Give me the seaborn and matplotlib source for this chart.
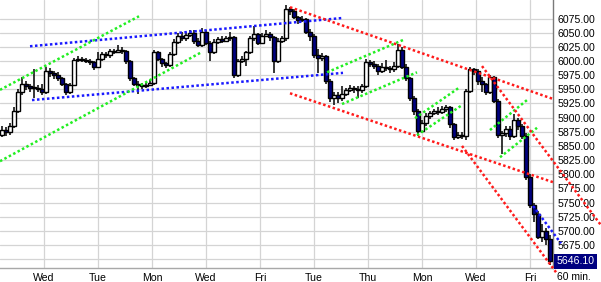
import numpy as np
import pandas as pd
import matplotlib
matplotlib.use("Agg")
import matplotlib.pyplot as plt
import seaborn as sns
from matplotlib.transforms import blended_transform_factory

# ---------------- data (60-min candles) ----------------
first_open = 5870
closes = [5878, 5874, 5885, 5912, 5945, 5960, 5955, 5952, 5953, 5950,
          5945, 5983, 5978, 5975, 5970, 5960, 5945, 5958, 6002, 6004,
          6002, 6000, 5998, 5990, 6004, 6012, 6010, 6018, 6016, 6020,
          6017, 6000, 5970, 5960, 5958, 5955, 5958, 5962, 6016, 6004,
          5996, 5993, 6012, 6034, 6045, 6040, 6046, 6050, 6035, 6028,
          6052, 6032, 6016, 6034, 6038, 6036, 6040, 6042, 5975, 6000,
          6004, 6015, 6040, 6048, 6032, 6045, 6048, 6042, 6000, 6035,
          6040, 6092, 6088, 6078, 6072, 6074, 6052, 6045, 6010, 6005,
          6008, 5965, 5935, 5940, 5935, 5942, 5948, 5952, 5950, 5948,
          5955, 5998, 5995, 5992, 5982, 5990, 5988, 5985, 5992, 6020,
          5990, 5970, 5935, 5912, 5876, 5890, 5903, 5908, 5912, 5910,
          5915, 5918, 5888, 5866, 5870, 5868, 5947, 5985, 5982, 5965,
          5960, 5945, 5972, 5930, 5870, 5872, 5880, 5868, 5895, 5885,
          5868, 5796, 5745, 5730, 5690, 5700, 5685, 5646.1]
highs = [5885, 5884, 5890, 5918, 5950, 5972, 5965, 5960, 5985, 5958,
         5960, 5990, 5988, 5982, 5980, 5972, 5962, 5962, 6006, 6008,
         6007, 6005, 6004, 6000, 6016, 6016, 6015, 6022, 6022, 6028,
         6024, 6020, 6002, 5972, 5965, 5962, 5962, 5966, 6020, 6018,
         6006, 5998, 6015, 6038, 6050, 6052, 6052, 6055, 6054, 6040,
         6058, 6055, 6035, 6038, 6042, 6044, 6045, 6052, 6044, 6004,
         6008, 6018, 6044, 6062, 6050, 6050, 6055, 6052, 6045, 6040,
         6044, 6098, 6096, 6092, 6080, 6080, 6076, 6056, 6048, 6022,
         6014, 6010, 5968, 5946, 5945, 5955, 5952, 5958, 5956, 5955,
         5960, 6004, 6002, 6000, 5995, 5996, 6002, 5992, 5998, 6030,
         6024, 5994, 5972, 5938, 5915, 5895, 5908, 5912, 5916, 5918,
         5920, 5922, 5920, 5890, 5874, 5874, 5950, 5990, 5988, 5985,
         5972, 5962, 5976, 5974, 5932, 5876, 5885, 5886, 5906, 5900,
         5888, 5872, 5800, 5750, 5735, 5712, 5705, 5692]
lows = [5866, 5868, 5870, 5882, 5908, 5940, 5948, 5946, 5935, 5946,
        5940, 5942, 5972, 5968, 5965, 5955, 5940, 5942, 5955, 5998,
        5998, 5996, 5993, 5984, 5988, 6000, 6005, 6006, 6012, 6014,
        6012, 5995, 5965, 5955, 5942, 5950, 5952, 5955, 5958, 6000,
        5990, 5988, 5990, 6008, 6030, 6035, 6036, 6042, 6030, 6024,
        6025, 6028, 6000, 6012, 6030, 6032, 6033, 6036, 5970, 5972,
        5996, 5992, 6012, 6036, 6028, 6030, 6042, 6036, 5978, 5996,
        6032, 6036, 6082, 6074, 6066, 6068, 6048, 6036, 6005, 5978,
        6000, 5960, 5928, 5922, 5925, 5930, 5938, 5945, 5944, 5935,
        5944, 5952, 5990, 5985, 5975, 5978, 5982, 5978, 5980, 5988,
        5985, 5965, 5930, 5905, 5868, 5872, 5885, 5898, 5904, 5905,
        5906, 5910, 5882, 5860, 5862, 5862, 5860, 5944, 5975, 5958,
        5945, 5940, 5942, 5925, 5864, 5835, 5866, 5860, 5864, 5878,
        5862, 5790, 5740, 5715, 5685, 5680, 5675, 5640]

day_labels = ["Wed", "Tue", "Mon", "Wed", "Fri", "Tue", "Thu", "Mon", "Wed", "Fri"]
day_label_bars = [10.5, 24, 37.5, 51, 64.5, 78, 91.5, 105, 118.5, 132]
price_ticks = [5650, 5675, 5700, 5725, 5750, 5775, 5800, 5825, 5850, 5875,
               5900, 5925, 5950, 5975, 6000, 6025, 6050, 6075]
last_price = 5646.10
interval_label = "60 min."

# trend lines: (bar0, price0, bar1, price1)
blue_lines = [(7, 6026, 85.25, 6076),
              (7.5, 5931, 85.25, 5979),
              (132.75, 5744, 139.75, 5678)]
green_lines = [(-0.5, 5949, 34.25, 6079),
               (-0.5, 5823, 50, 6016),
               (81.25, 5980, 100.25, 6037),
               (85, 5924, 103.75, 5980),
               (103.25, 5899, 114.5, 5954),
               (103.75, 5869, 115, 5922),
               (122, 5878, 131.25, 5931),
               (124.5, 5830, 133.75, 5882)]
red_lines = [(72, 6095, 137.75, 5933),
             (72, 5943, 137.75, 5786),
             (120, 5991, 149.75, 5710),
             (115, 5850, 138.5, 5627)]

# ---------------- styling ----------------
sns.set_theme(style="white")
plt.rcParams["font.family"] = ["Liberation Sans", "DejaVu Sans"]

W, H = 601, 282
fig = plt.figure(figsize=(W / 100, H / 100), dpi=100)
bottom_px = 268.3
right_px = 553
ax = fig.add_axes([0, 1 - bottom_px / H, right_px / W, bottom_px / H])
ax.set_facecolor("white")

n = len(closes)
bars = np.arange(n)
opens = [first_open] + closes[:-1]
df = pd.DataFrame({"bar": bars, "open": opens, "close": closes,
                   "high": highs, "low": lows})
df["up"] = df["close"] >= df["open"]

# wicks
ax.vlines(df["bar"], df["low"], df["high"], color="black", lw=1.1, zorder=3)
# bodies
body_bottom = df[["open", "close"]].min(axis=1)
body_h = (df["close"] - df["open"]).abs().clip(lower=1.5)
ax.bar(df["bar"], body_h, bottom=body_bottom, width=0.78,
       color=np.where(df["up"], "white", "#000080"),
       edgecolor="black", linewidth=1.0, zorder=4)

# trend lines via seaborn
rows = []
lid = 0
for cname, group in (("blue", blue_lines), ("green", green_lines), ("red", red_lines)):
    for (b0, p0, b1, p1) in group:
        rows.append({"line": lid, "color": cname, "bar": b0, "price": p0})
        rows.append({"line": lid, "color": cname, "bar": b1, "price": p1})
        lid += 1
tl = pd.DataFrame(rows)
pal = {"blue": "#1a1aff", "green": "#22ee22", "red": "#ff1a1a"}
before = len(ax.lines)
sns.lineplot(data=tl, x="bar", y="price", units="line", hue="color",
             palette=pal, estimator=None, legend=False, sort=False,
             linestyle=(0, (1, 1)), lw=1.8, ax=ax, zorder=5)
for ln in ax.lines[before:]:
    ln.set_clip_on(False)

# axes
ax.set_xlim(-0.5, 137.75)
ax.set_ylim(5633.9, 6107.7)
ax.set_xlabel("")
ax.set_ylabel("")
ax.set_xticks(day_label_bars)
ax.set_xticklabels(day_labels)
ax.set_yticks(price_ticks)
ax.set_yticklabels(["" if p == 5650 else f"{p:.2f}" for p in price_ticks])
ax.yaxis.tick_right()
ax.tick_params(axis="y", length=0, pad=3.2, labelsize=7.6, colors="black")
ax.tick_params(axis="x", length=0, pad=3.2, labelsize=7.6, colors="black")
ax.grid(True, color="#d4d4d4", lw=0.9)
ax.set_axisbelow(True)
for s in ("left", "top"):
    ax.spines[s].set_visible(False)
ax.spines["right"].set_color("#7a7a7a")
ax.spines["right"].set_linewidth(1.0)
ax.spines["bottom"].set_color("#a8a8a8")
ax.spines["bottom"].set_linewidth(1.0)

# last price box
trans = blended_transform_factory(ax.transAxes, ax.transData)
ax.text(1.0 + 3.5 / right_px, last_price, f"{last_price:.2f}", transform=trans,
        ha="left", va="center", color="white", fontsize=7.6, zorder=10,
        bbox=dict(boxstyle="square,pad=0.22", fc="#000080", ec="none"),
        clip_on=False)

fig.text(557 / W, 1 - 277 / H, interval_label, ha="left", va="center",
         fontsize=7.4, color="black")

fig.savefig("out.png", dpi=100)
